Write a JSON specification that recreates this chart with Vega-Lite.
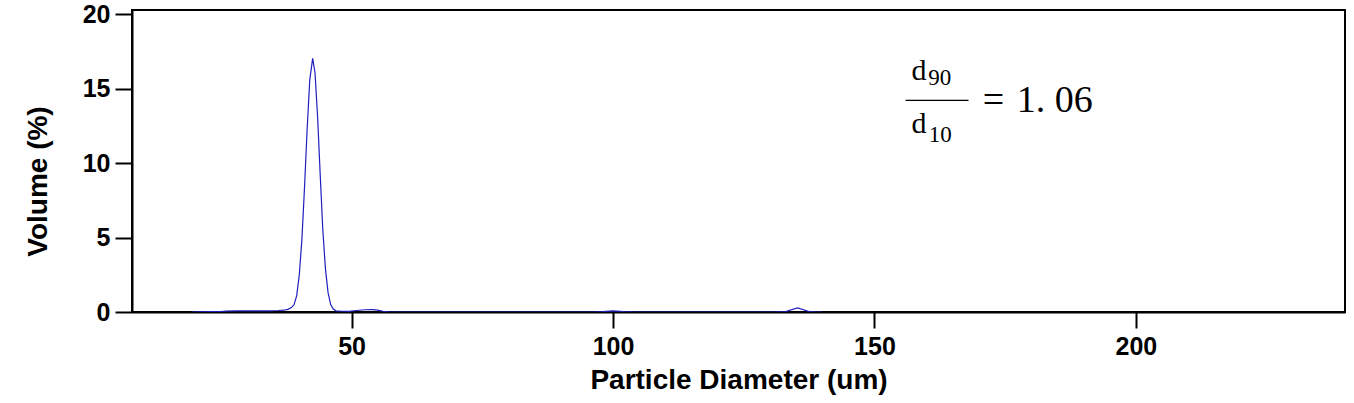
{
  "$schema": "https://vega.github.io/schema/vega-lite/v6.json",
  "width": 1213,
  "height": 302,
  "autosize": {"type": "none"},
  "padding": {"left": 132, "top": 10, "right": 9, "bottom": 91},
  "background": "white",
  "config": {
    "view": {"stroke": "black", "strokeWidth": 2},
    "axis": {
      "grid": false,
      "domainColor": "black",
      "domainWidth": 2,
      "tickColor": "black",
      "tickWidth": 2,
      "tickSize": 16,
      "labelFont": "Liberation Sans",
      "labelFontWeight": "bold",
      "labelFontSize": 25,
      "labelColor": "black",
      "titleFont": "Liberation Sans",
      "titleFontWeight": "bold",
      "titleFontSize": 28,
      "titleColor": "black"
    }
  },
  "datasets": {
    "dist": [
      {"d": 19.5, "v": 0}, {"d": 21, "v": 0.01}, {"d": 23, "v": 0.02}, {"d": 25, "v": 0.03},
      {"d": 26, "v": 0.06}, {"d": 28, "v": 0.07}, {"d": 30, "v": 0.07}, {"d": 32, "v": 0.08},
      {"d": 34, "v": 0.08}, {"d": 36, "v": 0.1}, {"d": 37, "v": 0.12}, {"d": 37.8, "v": 0.18},
      {"d": 38.5, "v": 0.3}, {"d": 39.0, "v": 0.5}, {"d": 39.5, "v": 1.1}, {"d": 40.0, "v": 2.5},
      {"d": 40.5, "v": 4.9}, {"d": 41.0, "v": 8.4}, {"d": 41.5, "v": 12.3}, {"d": 42.0, "v": 15.6},
      {"d": 42.55, "v": 17.05}, {"d": 43.0, "v": 16.1}, {"d": 43.5, "v": 13.1}, {"d": 44.0, "v": 9.2},
      {"d": 44.5, "v": 5.5}, {"d": 45.0, "v": 2.9}, {"d": 45.5, "v": 1.3}, {"d": 46.0, "v": 0.5},
      {"d": 46.5, "v": 0.2}, {"d": 47.0, "v": 0.08}, {"d": 48, "v": 0.05}, {"d": 49.5, "v": 0.04},
      {"d": 51, "v": 0.1}, {"d": 52.5, "v": 0.15}, {"d": 54, "v": 0.16}, {"d": 55, "v": 0.13},
      {"d": 56, "v": 0.05}, {"d": 57, "v": 0.01}, {"d": 58, "v": 0}, {"d": 96, "v": 0},
      {"d": 98, "v": 0.03}, {"d": 100, "v": 0.08}, {"d": 102, "v": 0.03}, {"d": 104, "v": 0},
      {"d": 131, "v": 0}, {"d": 133, "v": 0.03}, {"d": 135.3, "v": 0.27}, {"d": 137.5, "v": 0.03},
      {"d": 139, "v": 0}, {"d": 140, "v": 0}
    ]
  },
  "layer": [
    {
      "data": {"name": "dist"},
      "mark": {"type": "line", "color": "#1f1fbf", "strokeWidth": 1.2, "clip": true},
      "encoding": {
        "x": {
          "field": "d", "type": "quantitative", "title": "Particle Diameter (um)",
          "scale": {"domain": [8, 240], "nice": false, "zero": false},
          "axis": {"values": [50, 100, 150, 200], "labelPadding": 6, "titlePadding": 7}
        },
        "y": {
          "field": "v", "type": "quantitative", "title": "Volume (%)",
          "scale": {"domain": [0, 20.3], "nice": false},
          "axis": {"values": [0, 5, 10, 15, 20], "labelPadding": 5, "tickSize": 17, "titlePadding": 30, "titleY": 171, "titleAlign": "center", "titleAngle": -90}
        }
      }
    },
    {
      "data": {"values": [{"d": 157.1, "v": 15.57, "t": "d"}, {"d": 157.1, "v": 12.01, "t": "d"}]},
      "mark": {"type": "text", "font": "Liberation Serif", "fontSize": 30, "align": "left", "baseline": "alphabetic", "color": "black"},
      "encoding": {"x": {"field": "d", "type": "quantitative"}, "y": {"field": "v", "type": "quantitative"}, "text": {"field": "t"}}
    },
    {
      "data": {"values": [{"d": 160.3, "v": 15.24, "t": "90"}, {"d": 160.4, "v": 11.4, "t": "10"}]},
      "mark": {"type": "text", "font": "Liberation Serif", "fontSize": 23, "align": "left", "baseline": "alphabetic", "color": "black"},
      "encoding": {"x": {"field": "d", "type": "quantitative"}, "y": {"field": "v", "type": "quantitative"}, "text": {"field": "t"}}
    },
    {
      "data": {"values": [{"d": 155.95, "d2": 168.0, "v": 14.23}]},
      "mark": {"type": "rule", "color": "black", "strokeWidth": 1.3},
      "encoding": {"x": {"field": "d", "type": "quantitative"}, "x2": {"field": "d2"}, "y": {"field": "v", "type": "quantitative"}}
    },
    {
      "data": {"values": [{"d": 170.7, "v": 13.42, "t": "="}, {"d": 177.2, "v": 13.42, "t": "1. 06"}]},
      "mark": {"type": "text", "font": "Liberation Serif", "fontSize": 38, "align": "left", "baseline": "alphabetic", "color": "black"},
      "encoding": {"x": {"field": "d", "type": "quantitative"}, "y": {"field": "v", "type": "quantitative"}, "text": {"field": "t"}}
    }
  ]
}
